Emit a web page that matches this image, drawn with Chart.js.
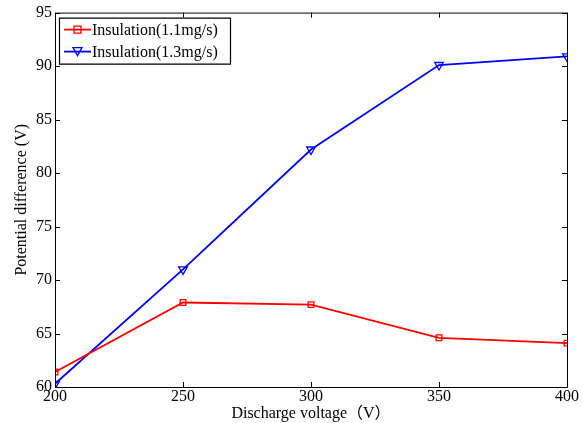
<!DOCTYPE html>
<html><head><meta charset="utf-8">
<script src="https://cdn.jsdelivr.net/npm/chart.js@4/dist/chart.umd.min.js"></script>
<style>html,body{margin:0;padding:0;background:#fff}#wrap{width:583px;height:423px}</style>
</head><body><div id="wrap"><canvas id="c" width="583" height="423"></canvas></div>
<script>
const categories = [200, 250, 300, 350, 400];
const series11 = [61.4, 67.9, 67.7, 64.6, 64.1];
const series13 = [60.3, 71.0, 82.2, 90.1, 90.9];
const labels = ['Insulation(1.1mg/s)', 'Insulation(1.3mg/s)'];
const xTicks = [200, 250, 300, 350, 400];
const yTicks = [60, 65, 70, 75, 80, 85, 90, 95];
const FONT = "'Liberation Serif','Times New Roman','Noto Sans CJK SC',serif";

const boxPlugin = {
  id: 'box',
  afterDatasetsDraw(chart) {
    const {ctx, chartArea: a, scales: {x, y}} = chart;
    ctx.save();
    ctx.strokeStyle = '#000';
    ctx.lineWidth = 1;
    ctx.beginPath();
    ctx.rect(a.left + 0.5, a.top + 0.5, a.right - a.left, a.bottom - a.top);
    ctx.stroke();
    ctx.beginPath();
    const t = 5;
    xTicks.forEach(v => {
      const px = Math.round(x.getPixelForValue(v)) + 0.5;
      ctx.moveTo(px, a.bottom); ctx.lineTo(px, a.bottom - t);
      ctx.moveTo(px, a.top); ctx.lineTo(px, a.top + t);
    });
    yTicks.forEach(v => {
      const py = Math.round(y.getPixelForValue(v)) + 0.5;
      ctx.moveTo(a.left, py); ctx.lineTo(a.left + t, py);
      ctx.moveTo(a.right, py); ctx.lineTo(a.right - t, py);
    });
    ctx.stroke();
    // legend
    const lx = a.left + 4, ly = a.top + 5, lw = 171, lh = 46;
    ctx.fillStyle = '#fff';
    ctx.fillRect(lx, ly, lw, lh);
    ctx.lineWidth = 1.2;
    ctx.beginPath();
    ctx.rect(lx + 0.5, ly + 0.5, lw, lh);
    ctx.stroke();
    chart.data.datasets.forEach((ds, i) => {
      const cy = ly + 12 + i * 22;
      ctx.strokeStyle = ds.borderColor;
      ctx.lineWidth = 1.8;
      ctx.beginPath(); ctx.moveTo(lx + 5, cy); ctx.lineTo(lx + 32, cy); ctx.stroke();
      ctx.lineWidth = 1.3;
      ctx.beginPath();
      if (ds.pointStyle === 'rect') {
        ctx.rect(lx + 15, cy - 3.5, 7, 7);
      } else {
        ctx.moveTo(lx + 14, cy - 4); ctx.lineTo(lx + 23, cy - 4); ctx.lineTo(lx + 18.5, cy + 4); ctx.closePath();
      }
      ctx.stroke();
      ctx.fillStyle = '#000';
      ctx.font = '16px ' + FONT;
      ctx.textBaseline = 'middle';
      ctx.fillText(ds.label, lx + 33, cy + 1);
    });
    ctx.restore();
  }
};

new Chart(document.getElementById('c'), {
  type: 'line',
  data: {
    datasets: [
      {label: labels[0], data: categories.map((c, i) => ({x: c, y: series11[i]})), borderColor: '#ff0000', backgroundColor: 'transparent', borderWidth: 1.8, pointStyle: 'rect', pointRadius: 4, pointBorderWidth: 1.3, pointBackgroundColor: 'transparent', tension: 0},
      {label: labels[1], data: categories.map((c, i) => ({x: c, y: series13[i]})), borderColor: '#0000ff', backgroundColor: 'transparent', borderWidth: 1.8, pointStyle: 'triangle', pointRotation: 180, pointRadius: 5, pointBorderWidth: 1.3, pointBackgroundColor: 'transparent', tension: 0}
    ]
  },
  options: {
    responsive: false, animation: false,
    layout: {padding: {left: 12, right: 16, top: 9, bottom: 0}},
    plugins: {legend: {display: false}, tooltip: {enabled: false}},
    scales: {
      x: {
        type: 'linear', min: 200, max: 400,
        afterBuildTicks: s => { s.ticks = xTicks.map(v => ({value: v})); },
        afterFit: s => { s.height = 36; },
        grid: {display: false, drawTicks: false},
        border: {display: false},
        ticks: {color: '#000', font: {family: FONT, size: 16}, padding: 0, maxRotation: 0},
        title: {display: true, text: 'Discharge voltage（V）', color: '#000', font: {family: FONT, size: 16}, padding: {top: -3, bottom: 0}}
      },
      y: {
        min: 60, max: 95,
        afterBuildTicks: s => { s.ticks = yTicks.map(v => ({value: v})); },
        afterFit: s => { s.width = 43; },
        grid: {display: false, drawTicks: false},
        border: {display: false},
        ticks: {color: '#000', font: {family: FONT, size: 16}, padding: 3},
        title: {display: true, text: 'Potential difference (V)', color: '#000', font: {family: FONT, size: 16}, padding: {top: 0, bottom: 0}}
      }
    }
  },
  plugins: [boxPlugin]
});
</script></body></html>
